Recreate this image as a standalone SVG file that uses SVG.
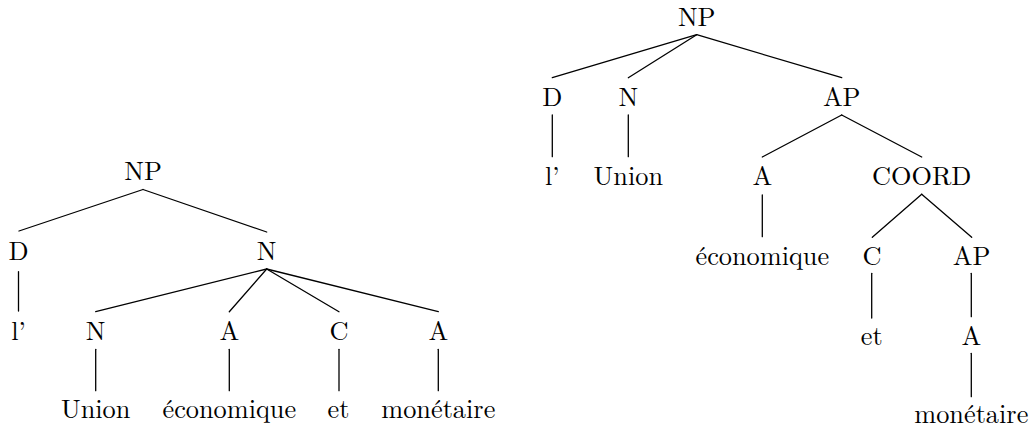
<svg xmlns="http://www.w3.org/2000/svg" width="1032" height="431" viewBox="0 0 1032 431">
<rect width="1032" height="431" fill="#fff"/>
<g id="connectors" stroke="#000" stroke-width="1.3" stroke-linecap="round" fill="none">
<line x1="143" y1="189.5" x2="19" y2="231"/>
<line x1="143" y1="189.5" x2="266.7" y2="232"/>
<line x1="18.5" y1="271.7" x2="18.5" y2="311"/>
<line x1="266.7" y1="269" x2="95.7" y2="311.7"/>
<line x1="266.7" y1="269" x2="229.3" y2="311.7"/>
<line x1="266.7" y1="269" x2="339" y2="311.7"/>
<line x1="266.7" y1="269" x2="438.3" y2="311.7"/>
<line x1="95.7" y1="349.3" x2="95.7" y2="390.7"/>
<line x1="229.3" y1="349.3" x2="229.3" y2="390.7"/>
<line x1="339" y1="349.3" x2="339" y2="390.7"/>
<line x1="438.3" y1="349.3" x2="438.3" y2="390.7"/>
<line x1="696.7" y1="34.7" x2="552.3" y2="77.7"/>
<line x1="696.7" y1="34.7" x2="628.3" y2="77.7"/>
<line x1="696.7" y1="34.7" x2="841.7" y2="77.7"/>
<line x1="552.3" y1="115" x2="552.3" y2="156.7"/>
<line x1="628.3" y1="115" x2="628.3" y2="156.7"/>
<line x1="841.7" y1="115" x2="762.3" y2="157"/>
<line x1="841.7" y1="115" x2="921.7" y2="157"/>
<line x1="762.3" y1="195" x2="762.3" y2="236.7"/>
<line x1="921.7" y1="194.3" x2="872.3" y2="237.3"/>
<line x1="921.7" y1="194.3" x2="971.7" y2="237.3"/>
<line x1="871.7" y1="273.3" x2="871.7" y2="318"/>
<line x1="971.3" y1="273.3" x2="971.3" y2="316.7"/>
<line x1="971.3" y1="353.3" x2="971.3" y2="396.7"/>
</g>
<g font-family="Latin Modern Roman, Liberation Serif, serif" font-size="26.3" fill="#000" text-anchor="middle">
<g id="left-NP"><text x="143" y="180">NP</text></g>
<g id="left-D"><text x="18.5" y="260">D</text></g>
<g id="left-N"><text x="266.7" y="260">N</text></g>
<g id="left-l"><text x="18.5" y="340">l’</text></g>
<g id="left-N2"><text x="95.7" y="340">N</text></g>
<g id="left-A1"><text x="229.3" y="340">A</text></g>
<g id="left-C"><text x="339" y="340">C</text></g>
<g id="left-A2"><text x="438.3" y="340">A</text></g>
<g id="left-Union"><text x="95.7" y="418.3">Union</text></g>
<g id="left-economique"><text x="229.3" y="418.3">économique</text></g>
<g id="left-et"><text x="338.5" y="418.3">et</text></g>
<g id="left-monetaire"><text x="438.3" y="418.3">monétaire</text></g>
<g id="right-NP"><text x="696.7" y="26">NP</text></g>
<g id="right-D"><text x="552.3" y="106">D</text></g>
<g id="right-N"><text x="628.3" y="106">N</text></g>
<g id="right-AP"><text x="841.7" y="106">AP</text></g>
<g id="right-l"><text x="552.3" y="185">l’</text></g>
<g id="right-Union"><text x="628.3" y="185">Union</text></g>
<g id="right-A"><text x="762.3" y="185">A</text></g>
<g id="right-COORD"><text x="921.7" y="185">COORD</text></g>
<g id="right-economique"><text x="762.3" y="265">économique</text></g>
<g id="right-C"><text x="872" y="265">C</text></g>
<g id="right-AP2"><text x="971.5" y="265">AP</text></g>
<g id="right-et"><text x="871.7" y="345">et</text></g>
<g id="right-A2"><text x="971.3" y="345">A</text></g>
<g id="right-monetaire"><text x="971.3" y="423.3">monétaire</text></g>
</g>
</svg>
